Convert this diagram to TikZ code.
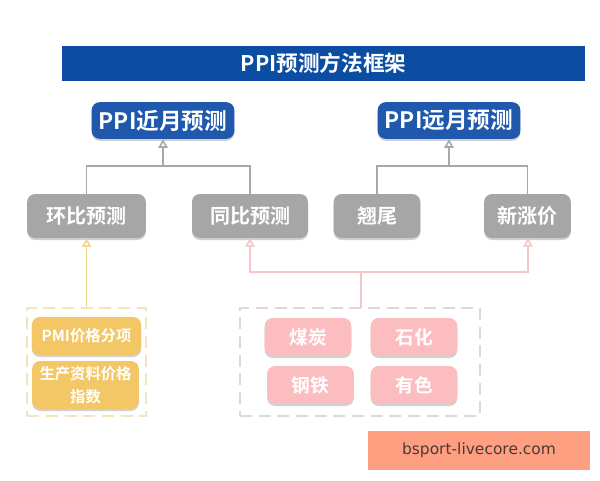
\documentclass[tikz,border=0pt]{standalone}
\usepackage{fontspec}
\setmainfont{Noto Sans CJK SC}[BoldFont={Noto Sans CJK SC Bold}]
\newfontfamily\wmfont{DejaVu Sans}
\usetikzlibrary{arrows.meta,shadows}
\definecolor{titleblue}{HTML}{0B4DA2}
\definecolor{headblue}{HTML}{2058AE}
\definecolor{greybox}{HTML}{A6A6A6}
\definecolor{greyline}{HTML}{A8A8A8}
\definecolor{yelbox}{HTML}{F3C765}
\definecolor{yelline}{HTML}{F3D78E}
\definecolor{pinkbox}{HTML}{FBBDC0}
\definecolor{pinkline}{HTML}{F5C6C8}
\definecolor{wmbg}{HTML}{FE9F82}
\definecolor{wmtext}{HTML}{4A3A35}
\definecolor{yeldash}{HTML}{F2E4BE}
\definecolor{pinkdash}{HTML}{E4D6D8}
\newcommand{\boxfont}[1]{\fontsize{#1}{#1}\selectfont\bfseries}
\tikzset{
  x=0.75pt,y=-0.75pt,
  boxbase/.style={rounded corners=6pt,inner sep=0pt,text=white,align=center,font=\boxfont{15},
    drop shadow={shadow xshift=0pt,shadow yshift=-1.5pt,fill=black,opacity=.18}},
  headbox/.style={boxbase,fill=headblue,minimum width=107pt,minimum height=27.5pt,font=\boxfont{17}},
  greyb/.style={boxbase,fill=greybox,minimum height=33pt},
  yelb/.style={boxbase,fill=yelbox,font=\fontsize{11.5}{17}\selectfont\bfseries},
  pinkb/.style={boxbase,fill=pinkbox,minimum width=65pt,minimum height=28.5pt,font=\boxfont{14}},
  groupbox/.style={line width=1.6pt,dash pattern=on 9pt off 5pt,fill=white,inner sep=0pt},
  greyconn/.style={draw=greyline,line width=1.2pt},
  yelconn/.style={draw=yelline,line width=1.3pt},
  pinkconn/.style={draw=pinkline,line width=1.2pt},
  uptip/.style={-{Triangle[open,length=6.5pt,width=7pt,fill=white]}},
}
\begin{document}
\begin{tikzpicture}
\useasboundingbox (0,0) rectangle (600,480);
\fill[white] (0,0) rectangle (600,480);
% title
\node[fill=titleblue,minimum width=392.25pt,minimum height=26.25pt,inner sep=0pt,text=white,font=\boxfont{16.2}] (title) at (323.5,63.5) {PPI预测方法框架};
% head boxes
\node[headbox] (jin) at (163,120.5) {PPI近月预测};
\node[headbox] (yuan) at (449,120.5) {PPI远月预测};
% grey boxes
\node[greyb,minimum width=89pt] (huan) at (86.5,216) {环比预测};
\node[greyb,minimum width=87pt] (tong) at (250,216) {同比预测};
\node[greyb,minimum width=65pt] (qiao) at (377,216) {翘尾};
\node[greyb,minimum width=65pt] (xin) at (527.5,216) {新涨价};
% dashed groups
\node[groupbox,draw=yeldash,minimum width=89pt,minimum height=81pt] (yg) at (86.5,362) {};
\node[groupbox,draw=pinkdash,minimum width=180pt,minimum height=81pt] (pg) at (360,362) {};
% yellow boxes
\node[yelb,minimum width=82pt,minimum height=28.5pt] (pmi) at (86.5,336) {PMI价格分项};
\node[yelb,minimum width=80pt,minimum height=36pt,text width=76pt] (sc) at (85.5,385) {生产资料价格\\指数};
% pink boxes
\node[pinkb] (mei) at (308,337) {煤炭};
\node[pinkb] (shi) at (414,337) {石化};
\node[pinkb] (gang) at (310.5,385) {钢铁};
\node[pinkb] (you) at (414,385) {有色};
% connector junctions
\coordinate (jbus) at (163,166);
\coordinate (ybus) at (449,166);
\coordinate (pbus) at (361,272);
\coordinate (ptop) at (361,308);
\coordinate (tongin) at (250,238);
\coordinate (xinin) at (528,238);
\coordinate (tongturn) at (250,272);
\coordinate (xinturn) at (528,272);
\path[greyconn] (huan.north) |- (jbus) (tong.north) |- (jbus);
\path[greyconn,uptip] (jbus) -- (jin.south);
\path[greyconn] (qiao.north) |- (ybus) (xin.north) |- (ybus);
\path[greyconn,uptip] (ybus) -- (yuan.south);
\path[yelconn,uptip] (yg.north) -- (huan.south);
\path[pinkconn] (ptop) -- (pbus);
\path[pinkconn,uptip] (pbus) -- (tongturn) -- (tongin);
\path[pinkconn,uptip] (pbus) -- (xinturn) -- (xinin);
% watermark
\node[fill=wmbg,minimum width=166.5pt,minimum height=29.25pt,inner sep=0pt,text=wmtext,font=\wmfont\fontsize{11.6}{12}\selectfont] (wm) at (479,450.5) {bsport-livecore.com};
\end{tikzpicture}
\end{document}
